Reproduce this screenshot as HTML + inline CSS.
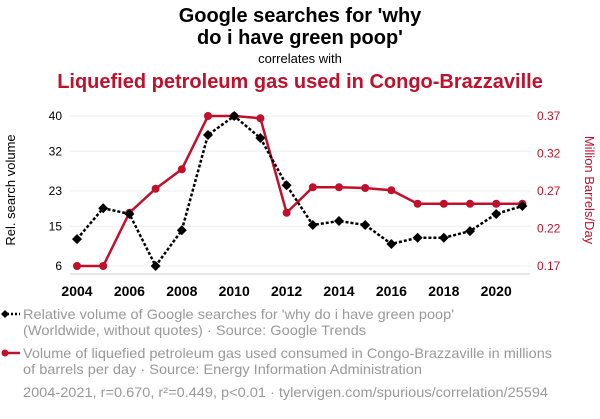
<!DOCTYPE html>
<html><head><meta charset="utf-8"><style>
body{margin:0;width:600px;height:414px;background:#fff;font-family:"Liberation Sans",sans-serif;overflow:hidden}
</style></head><body>
<svg width="600" height="414" font-family="Liberation Sans, sans-serif">
<text x="300" y="22" text-anchor="middle" font-size="20" font-weight="bold">Google searches for 'why</text>
<text x="300" y="44" text-anchor="middle" font-size="20" font-weight="bold">do i have green poop'</text>
<text x="300" y="63" text-anchor="middle" font-size="13">correlates with</text>
<text x="300" y="88" text-anchor="middle" font-size="20" font-weight="bold" fill="#c0102b">Liquefied petroleum gas used in Congo-Brazzaville</text>
<g id="grid"></g><g id="axes"></g><g id="series"></g>
<text transform="translate(15,190) rotate(-90)" text-anchor="middle" font-size="13">Rel. search volume</text>
<text transform="translate(585,190) rotate(90)" text-anchor="middle" font-size="13" fill="#c0102b">Million Barrels/Day</text>
<g>
<line x1="3" y1="314" x2="20" y2="314" stroke="#000" stroke-width="2.5" stroke-dasharray="2,2"/>
<path d="M5 310 L9 314 L5 318 L1 314Z" fill="#000"/>
<text x="23" y="319" font-size="14" fill="#999" textLength="431" lengthAdjust="spacingAndGlyphs">Relative volume of Google searches for 'why do i have green poop'</text>
<text x="23" y="335" font-size="14" fill="#999" textLength="343" lengthAdjust="spacingAndGlyphs">(Worldwide, without quotes) · Source: Google Trends</text></g>
<g>
<line x1="3" y1="353" x2="20" y2="353" stroke="#c0102b" stroke-width="2.5"/>
<circle cx="5" cy="353" r="3.5" fill="#c0102b"/>
<text x="23" y="358" font-size="14" fill="#999" textLength="529" lengthAdjust="spacingAndGlyphs">Volume of liquefied petroleum gas used consumed in Congo-Brazzaville in millions</text>
<text x="23" y="374" font-size="14" fill="#999" textLength="399" lengthAdjust="spacingAndGlyphs">of barrels per day · Source: Energy Information Administration</text></g>
<text x="23" y="397" font-size="14" fill="#999" textLength="525" lengthAdjust="spacingAndGlyphs">2004-2021, r=0.670, r²=0.449, p&lt;0.01 · tylervigen.com/spurious/correlation/25594</text>
</svg>
<script>
const years=[2004,2005,2006,2007,2008,2009,2010,2011,2012,2013,2014,2015,2016,2017,2018,2019,2020,2021];
const searches=[12.1,19.1,17.8,6,14.1,35.7,40,35,24.3,15.3,16.2,15.3,11,12.4,12.4,13.9,17.8,19.6];
const lpg=[0.17,0.17,0.241,0.273,0.299,0.37,0.37,0.367,0.241,0.275,0.275,0.274,0.271,0.253,0.253,0.253,0.253,0.253];
const leftTicks=[6,15,23,32,40];
const rightTicks=[0.17,0.22,0.27,0.32,0.37];
const xTicks=[2004,2006,2008,2010,2012,2014,2016,2018,2020];
const NS="http://www.w3.org/2000/svg";
const x=v=>77+(v-2004)*26.2;
const yl=v=>266-(v-6)*150/34;
const yr=v=>266-(v-0.17)*750;
function mk(t,a,p){const e=document.createElementNS(NS,t);for(const k in a)e.setAttribute(k,a[k]);p.appendChild(e);return e;}
const grid=document.getElementById('grid'),axes=document.getElementById('axes'),ser=document.getElementById('series');
leftTicks.forEach((t,i)=>{
 const g=mk('line',{x1:70,x2:530,y1:yl(t),y2:yl(t),stroke:'#eee'},grid);
 
 
 const l=mk('text',{x:62,y:yl(t)+4,'text-anchor':'end','font-size':12},axes);l.textContent=t;
 
 
});
rightTicks.forEach(t=>{
 const l=mk('text',{x:537,y:yr(t)+4,'font-size':12,fill:'#c0102b'},axes);l.textContent=t.toFixed(2);
 
 
});
const ax=mk('line',{x1:70,x2:530,y1:274,y2:274,stroke:'#ccc'},axes);


xTicks.forEach(t=>{
 const l=mk('text',{x:x(t),y:296,'text-anchor':'middle','font-size':14,'font-weight':'bold'},axes);l.textContent=t;
 
 
});
const rl=mk('polyline',{points:years.map((y,i)=>x(y)+','+yr(lpg[i])).join(' '),fill:'none',stroke:'#c0102b','stroke-width':2.5},ser);


years.forEach((y,i)=>{const c=mk('circle',{cx:x(y),cy:yr(lpg[i]),r:4,fill:'#c0102b'},ser);
 
 });
const bl=mk('polyline',{points:years.map((y,i)=>x(y)+','+yl(searches[i])).join(' '),fill:'none',stroke:'#000','stroke-width':2.5,'stroke-dasharray':'3,2'},ser);


years.forEach((y,i)=>{const px=x(y),py=yl(searches[i]);
 const d=mk('path',{d:`M${px} ${py-5}L${px+5} ${py}L${px} ${py+5}L${px-5} ${py}Z`,fill:'#000'},ser);
 
 });
</script>
</body></html>
